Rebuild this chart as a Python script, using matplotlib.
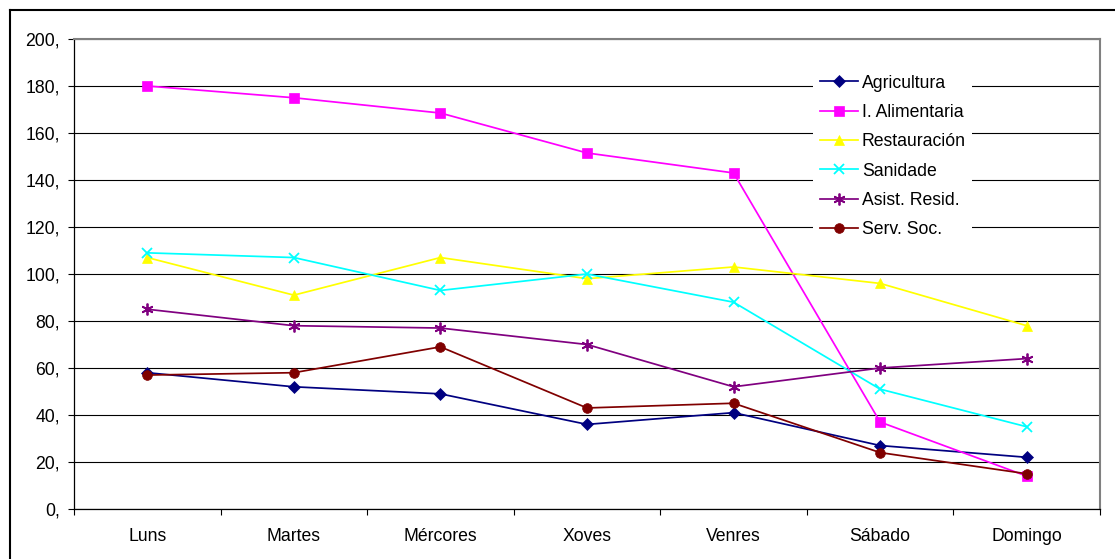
import matplotlib
matplotlib.use("Agg")
import matplotlib.pyplot as plt
from matplotlib.lines import Line2D
import numpy as np

plt.rcParams['font.family'] = ['Liberation Sans', 'DejaVu Sans']

days = ["Luns", "Martes", "Mércores", "Xoves", "Venres", "Sábado", "Domingo"]

agricultura = [58, 52, 49, 36, 41, 27, 22]
alimentaria = [180, 175, 168.5, 151.5, 143, 37, 14]
restauracion = [107, 91, 107, 98, 103, 96, 78]
sanidade = [109, 107, 93, 100, 88, 51, 35]
asist_resid = [85, 78, 77, 70, 52, 60, 64]
serv_soc = [57, 58, 69, 43, 45, 24, 15]

series = [
    ("Agricultura", agricultura, "#000080", "D", 6),
    ("I. Alimentaria", alimentaria, "#FF00FF", "s", 6.5),
    ("Restauración", restauracion, "#FFFF00", "^", 7.5),
    ("Sanidade", sanidade, "#00FFFF", "x", 7.5),
    ("Asist. Resid.", asist_resid, "#800080", (6, 2, 0), 8.5),
    ("Serv. Soc.", serv_soc, "#800000", "o", 7),
]

fig = plt.figure(figsize=(11.15, 5.59), dpi=100)
ax = fig.add_axes([74 / 1115, 50 / 559, 1026 / 1115, 470 / 559])

x = np.arange(len(days))
for name, vals, color, marker, ms in series:
    ax.plot(x, vals, color=color, marker=marker, markersize=ms, lw=1.25,
            markeredgewidth=1.3 if marker in ("x", (6, 2, 0)) else 0.5,
            markeredgecolor=color, label=name, zorder=3)

ax.set_xlim(-0.5, len(days) - 0.5)
ax.set_ylim(0, 200)
ax.set_yticks(range(0, 201, 20))
ax.set_yticklabels([f"{v}," for v in range(0, 201, 20)], fontsize=12.7)
ax.yaxis.grid(True, color="black", lw=0.8)
ax.set_axisbelow(True)

ax.set_xticks(x)
ax.set_xticklabels(days, fontsize=12.7)
ax.set_xticks(np.arange(-0.5, len(days)), minor=True)
ax.tick_params(axis="x", which="major", length=0, pad=14)
ax.tick_params(axis="x", which="minor", length=4.5, width=0.8, direction="out")
ax.tick_params(axis="y", length=4.5, width=0.8, pad=5.5, direction="out")

for side in ("top", "right"):
    ax.spines[side].set_color("#808080")
    ax.spines[side].set_linewidth(1.5)
for side in ("left", "bottom"):
    ax.spines[side].set_color("black")
    ax.spines[side].set_linewidth(0.9)

leg = ax.legend(loc="center", bbox_to_anchor=(0.798, 0.75), fontsize=12.7,
                frameon=True, facecolor="white", edgecolor="none", framealpha=1,
                handlelength=2.15, handletextpad=0.25, labelspacing=0.7,
                borderpad=0.35, fancybox=False)
leg.set_zorder(4)

# outer chart frame
fig.add_artist(Line2D([10 / 1115, 10 / 1115], [0, 1 - 10 / 559],
                      transform=fig.transFigure, color="black", lw=1.5))
fig.add_artist(Line2D([10 / 1115, 1], [1 - 10 / 559, 1 - 10 / 559],
                      transform=fig.transFigure, color="black", lw=1.5))

fig.savefig("out.png", dpi=100)
